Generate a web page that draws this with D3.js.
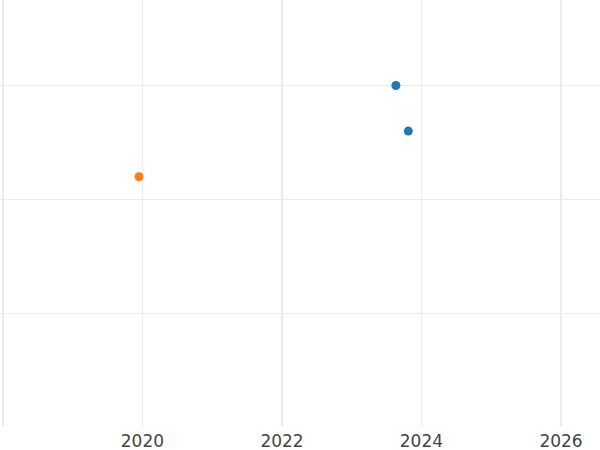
<!DOCTYPE html>
<html>
<head>
<meta charset="utf-8">
<script src="https://cdn.jsdelivr.net/npm/d3@7"></script>
<style>
  html, body { margin: 0; padding: 0; background: #fff; }
  svg { display: block; }
</style>
</head>
<body>
<svg id="chart" width="600" height="450"></svg>
<script>
// Data
const seriesNames = ["Series A", "Series B"];
const seriesColors = ["#1f77b4", "#ff7f0e"];
const seriesADates = ["2023-08-23", "2023-10-27"];
const seriesAValues = [3.0, 2.6];
const seriesBDates = ["2019-12-17"];
const seriesBValues = [2.2];
const xTickYears = [2018, 2020, 2022, 2024, 2026];
const xTickLabels = ["", "2020", "2022", "2024", "2026"];
const yTickValues = [1, 2, 3];

const svg = d3.select("#chart");
const W = 600, H = 450;
const plotBottom = 426.5;

const x = d3.scaleUtc()
  .domain([new Date(Date.UTC(2018, 0, 1)), new Date(Date.UTC(2026, 0, 1))])
  .range([2.5, 560.5]);
const y = d3.scaleLinear().domain([0, 3]).range([427.5, 85.5]);

// horizontal gridlines
svg.append("g")
  .attr("transform", `translate(0,0)`)
  .call(d3.axisLeft(y).tickValues(yTickValues).tickSize(-W).tickFormat(""))
  .call(g => g.select(".domain").remove())
  .call(g => g.selectAll("line").attr("stroke", "#ebebeb").attr("stroke-width", 1)
      .attr("transform", "translate(0,-0.5)"));

// vertical gridlines
const xDates = xTickYears.map(yr => new Date(Date.UTC(yr, 0, 1)));
const xAxis = svg.append("g")
  .attr("transform", `translate(0,${plotBottom})`)
  .call(d3.axisBottom(x).tickValues(xDates).tickSize(-plotBottom)
        .tickFormat((d, i) => xTickLabels[i]).tickPadding(8))
  .call(g => g.select(".domain").remove());
xAxis.selectAll(".tick line")
  .attr("stroke", "#ebebeb")
  .attr("stroke-width", (d, i) => (xTickYears[i] % 4 === 2 ? 2 : 1));
xAxis.selectAll(".tick text")
  .attr("fill", "#444")
  .attr("font-family", "DejaVu Sans, sans-serif")
  .attr("font-size", 17)
  .attr("dy", null)
  .attr("y", 447 - plotBottom);

// points
const parse = d3.utcParse("%Y-%m-%d");
const series = [
  { dates: seriesADates, values: seriesAValues, color: seriesColors[0] },
  { dates: seriesBDates, values: seriesBValues, color: seriesColors[1] }
];
series.forEach(s => {
  svg.append("g").selectAll("circle")
    .data(s.dates.map((d, i) => ({ date: parse(d), value: s.values[i] })))
    .join("circle")
    .attr("cx", d => x(d.date))
    .attr("cy", d => y(d.value))
    .attr("r", 4.5)
    .attr("fill", s.color);
});
</script>
</body>
</html>
